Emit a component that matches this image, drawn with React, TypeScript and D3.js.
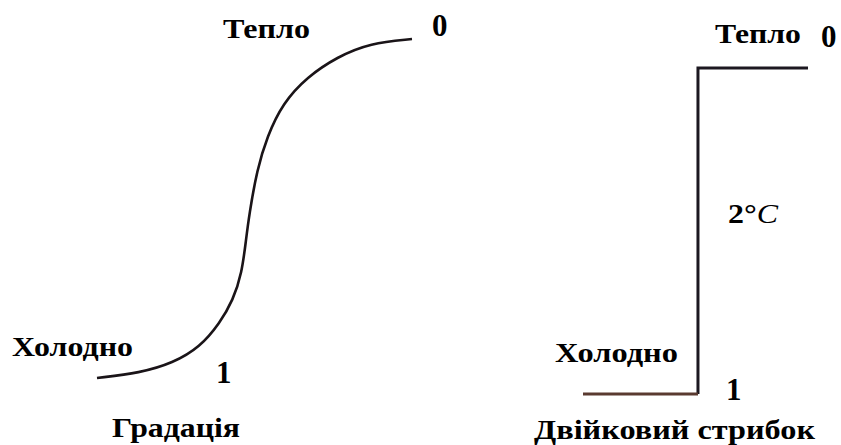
import React from "react";
import * as d3 from "d3";

// Gradual transition: position along the gradient (0..1) vs. state (1 = cold, 0 = warm)
const gradX = [0, 0.137, 0.241, 0.327, 0.39, 0.432, 0.46, 0.473, 0.483, 0.508, 0.54, 0.59, 0.667, 0.762, 0.867, 1];
const gradY = [1, 0.985, 0.956, 0.909, 0.838, 0.77, 0.69, 0.593, 0.519, 0.386, 0.288, 0.189, 0.112, 0.053, 0.012, 0];

// Binary jump: a single step at the threshold
const stepX = [0, 0.511, 0.511, 1];
const stepY = [1, 1, 0, 0];

const W = 841;
const H = 445;
const FONT = "Liberation Serif";

type Label = { text: string; x: number; y: number; size: number; len?: number };

const leftLabels: Label[] = [
  { text: "Тепло", x: 223, y: 38, size: 28, len: 87 },
  { text: "0", x: 432, y: 36, size: 31 },
  { text: "Холодно", x: 12, y: 356, size: 28, len: 121 },
  { text: "1", x: 216, y: 383, size: 31 },
  { text: "Градація", x: 112, y: 437, size: 28, len: 128 },
];

const rightLabels: Label[] = [
  { text: "Тепло", x: 715, y: 43, size: 28, len: 86 },
  { text: "0", x: 821, y: 47, size: 31 },
  { text: "Холодно", x: 555, y: 362, size: 28, len: 123 },
  { text: "1", x: 726, y: 400, size: 31 },
  { text: "Двійковий стрибок", x: 534, y: 439, size: 28, len: 281 },
];

export default function App() {
  const xL = d3.scaleLinear().domain([0, 1]).range([97, 412]);
  const yL = d3.scaleLinear().domain([0, 1]).range([39, 378]);
  const xR = d3.scaleLinear().domain([0, 1]).range([583, 808]);
  const yR = d3.scaleLinear().domain([0, 1]).range([68, 394]);

  const curvePath = d3
    .line<number>()
    .x((d, i) => xL(gradX[i]))
    .y((d) => yL(d))
    .curve(d3.curveBasis)(gradY);

  const lower = d3
    .line<number>()
    .x((d, i) => xR(stepX[i]))
    .y((d) => yR(d))(stepY.slice(0, 2));
  const upper = d3
    .line<number>()
    .x((d, i) => xR(stepX[i + 1]))
    .y((d) => yR(d))(stepY.slice(1));

  const renderLabel = (l: Label, k: number) => (
    <text
      key={k}
      x={l.x}
      y={l.y}
      textLength={l.len}
      lengthAdjust={l.len ? "spacingAndGlyphs" : undefined}
      style={{ fontFamily: FONT, fontWeight: 700, fontSize: l.size, fill: "#000" }}
    >
      {l.text}
    </text>
  );

  return (
    <svg
      width={W}
      height={H}
      style={{ position: "absolute", left: 0, top: 0, background: "#fff" }}
    >
      {/* Gradual curve */}
      <path d={curvePath ?? ""} fill="none" stroke="#1a1418" strokeWidth={2.6} />
      {leftLabels.map(renderLabel)}

      {/* Binary step */}
      <path d={upper ?? ""} fill="none" stroke="#1c1820" strokeWidth={3} />
      <path d={lower ?? ""} fill="none" stroke="#5a3a30" strokeWidth={3} />
      {rightLabels.map(renderLabel)}
      <text
        x={728}
        y={223}
        textLength={50}
        lengthAdjust="spacingAndGlyphs"
        style={{ fontFamily: FONT, fontWeight: 700, fontSize: 28, fill: "#000" }}
      >
        2°<tspan style={{ fontStyle: "italic", fontWeight: 400 }}>C</tspan>
      </text>
    </svg>
  );
}
